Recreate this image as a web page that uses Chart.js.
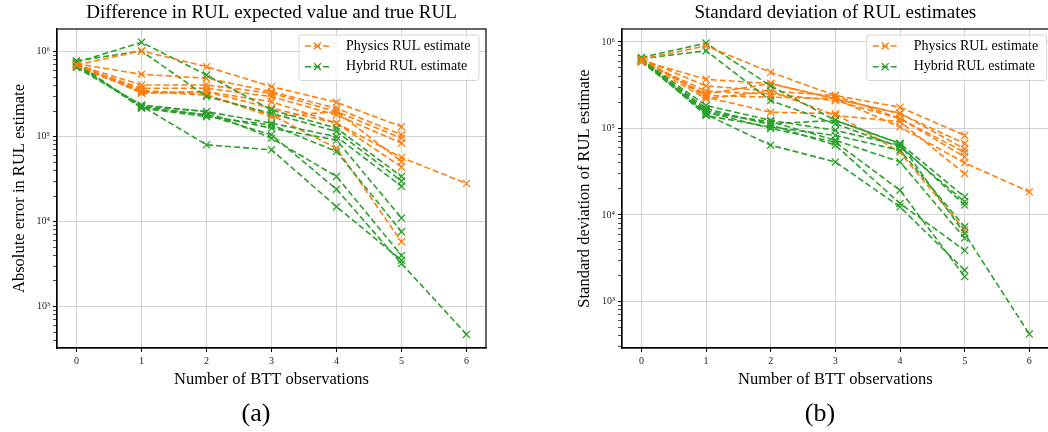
<!DOCTYPE html>
<html>
<head>
<meta charset="utf-8">
<title>RUL estimates vs. BTT observations</title>
<script src="https://cdn.jsdelivr.net/npm/chart.js@4.4.1/dist/chart.umd.min.js"></script>
<style>
  html, body { margin: 0; padding: 0; background: #fff; overflow: hidden; }
  body { width: 1048px; height: 432px; position: relative; }
  canvas { position: absolute; top: 0; }
  #panelA { left: 0; }
  #panelB { left: 520px; }
  .caption {
    position: absolute; top: 398px; width: 80px; margin-left: -40px;
    text-align: center; font: 26px "Liberation Serif", "Times New Roman", serif; color: #000;
  }
</style>
</head>
<body>
<canvas id="panelA" width="520" height="432"></canvas>
<canvas id="panelB" width="535" height="432"></canvas>
<div class="caption" style="left:256px">(a)</div>
<div class="caption" style="left:820px">(b)</div>

<script>
// ---- data -------------------------------------------------------------
const bttObs = [0, 1, 2, 3, 4, 5, 6];
const seriesNames = ['Physics RUL estimate', 'Hybrid RUL estimate'];
const seriesColors = ['#ff7f0e', '#2ca02c'];
const yDecades = [1e3, 1e4, 1e5, 1e6];
const yDecadeLabels = ['10³', '10⁴', '10⁵', '10⁶'];

// (a) absolute error of RUL expected value, one row per test case
const physicsError = [
  [7.0e5, 1.02e6, 6.67e5, 3.88e5, 2.54e5, 1.31e5],
  [7.2e5, 5.42e5, 4.87e5, 3.38e5, 2.16e5, 1.05e5],
  [7.0e5, 4.06e5, 4.06e5, 3.24e5, 1.97e5, 9.6e4],
  [6.8e5, 3.71e5, 3.71e5, 2.96e5, 1.80e5, 8.4e4],
  [7.3e5, 3.24e5, 3.38e5, 2.58e5, 1.44e5, 5.7e4, 2.8e4],
  [6.9e5, 3.50e5, 3.10e5, 1.72e5, 1.97e5, 5.1e4],
  [7.1e5, 3.30e5, 3.38e5, 2.16e5, 1.44e5, 4.4e4],
  [6.6e5, 3.40e5, 3.10e5, 1.80e5, 7.3e4, 5.8e3]
];
const hybridError = [
  [7.5e5, 1.29e6, 5.32e5, 2.06e5, 1.26e5, 3.4e4],
  [7.8e5, 1.02e6, 2.96e5, 1.88e5, 1.15e5, 3.0e4],
  [6.5e5, 2.36e5, 1.97e5, 1.44e5, 1.00e5, 2.6e4],
  [7.0e5, 2.25e5, 1.80e5, 1.26e5, 9.1e4, 1.1e4],
  [7.2e5, 2.16e5, 1.72e5, 1.37e5, 6.7e4, 7.6e3],
  [6.8e5, 2.30e5, 1.97e5, 9.6e4, 3.4e4, 4.0e3],
  [7.4e5, 2.20e5, 1.80e5, 1.05e5, 2.4e4, 3.2e3, 4.7e2],
  [6.9e5, 2.30e5, 8.0e4, 7.0e4, 1.5e4, 3.5e3]
];

// (b) standard deviation of the RUL estimates
const physicsStd = [
  [6.3e5, 9.0e5, 4.45e5, 2.4e5, 1.76e5, 8.3e4],
  [6.1e5, 3.7e5, 3.3e5, 2.2e5, 1.48e5, 6.7e4],
  [6.4e5, 3.1e5, 2.7e5, 2.4e5, 1.30e5, 5.3e4],
  [6.0e5, 2.7e5, 2.5e5, 2.1e5, 1.30e5, 4.7e4],
  [6.2e5, 2.4e5, 2.3e5, 2.2e5, 1.04e5, 4.0e4, 1.85e4],
  [5.9e5, 2.2e5, 2.7e5, 1.41e5, 1.20e5, 3.0e4],
  [6.5e5, 2.3e5, 1.54e5, 1.48e5, 5.3e4, 6.7e3],
  [6.0e5, 2.5e5, 3.3e5, 2.2e5, 1.50e5, 5.8e4]
];
const hybridStd = [
  [6.6e5, 9.7e5, 3.1e5, 1.24e5, 6.7e4, 1.62e4],
  [6.4e5, 7.9e5, 2.1e5, 1.13e5, 6.1e4, 1.42e4],
  [6.2e5, 1.84e5, 1.24e5, 9.5e4, 6.4e4, 1.3e4],
  [6.0e5, 1.61e5, 1.13e5, 1.24e5, 6.7e4, 6.1e3, 4.2e2],
  [6.3e5, 1.41e5, 1.04e5, 8.3e4, 5.6e4, 7.3e3],
  [5.9e5, 1.50e5, 1.20e5, 7.3e4, 4.1e4, 5.4e3],
  [6.1e5, 1.70e5, 1.10e5, 6.4e4, 1.36e4, 3.9e3],
  [6.5e5, 1.45e5, 6.4e4, 4.1e4, 1.24e4, 2.3e3],
  [6.0e5, 1.55e5, 1.00e5, 6.95e4, 1.93e4, 1.94e3]
];

// ---- styling ----------------------------------------------------------
const SERIF = '"Liberation Serif", "Times New Roman", serif';
Chart.defaults.font.family = SERIF;
Chart.defaults.color = '#000';

const isDecade = v => yDecades.some(d => Math.abs(v - d) < d * 1e-6);

function seriesLine(vals, color) {
  return {
    data: vals.map((v, k) => ({ x: bttObs[k], y: v })),
    borderColor: color,
    backgroundColor: color,
    borderWidth: 1.6,
    borderDash: [6, 3],
    pointStyle: 'crossRot',
    pointRadius: 5,
    pointBorderWidth: 1.3,
    pointBorderColor: color,
    tension: 0
  };
}

function buildSets(phys, hyb) {
  const sets = [];
  const n = Math.max(phys.length, hyb.length);
  for (let i = 0; i < n; i++) {
    if (phys[i]) sets.push(seriesLine(phys[i], seriesColors[0]));
    if (hyb[i]) sets.push(seriesLine(hyb[i], seriesColors[1]));
  }
  return sets;
}

// black frame on the top/right sides (left/bottom come from the axis borders)
const frame = {
  id: 'frame',
  afterDatasetsDraw(chart) {
    const { ctx, chartArea: a } = chart;
    ctx.save();
    ctx.strokeStyle = '#000';
    ctx.lineWidth = 1.2;
    ctx.strokeRect(a.left, a.top, a.right - a.left, a.bottom - a.top);
    ctx.restore();
  }
};

// legend box in the upper-right corner of the plot area
const boxLegend = {
  id: 'boxLegend',
  afterDraw(chart, args, opts) {
    const { ctx, chartArea: a } = chart;
    const w = 180, h = 45.5;
    const x0 = a.right - opts.inset - w, y0 = a.top + 6;
    ctx.save();
    ctx.beginPath();
    ctx.roundRect(x0, y0, w, h, 3);
    ctx.fillStyle = 'rgba(255,255,255,0.85)';
    ctx.fill();
    ctx.strokeStyle = '#d4d4d4';
    ctx.lineWidth = 1;
    ctx.stroke();
    seriesNames.forEach((name, i) => {
      const y = y0 + 11 + i * 20.7;
      const c = seriesColors[i];
      ctx.strokeStyle = c;
      ctx.lineWidth = 1.6;
      ctx.setLineDash([6, 3]);
      ctx.beginPath();
      ctx.moveTo(x0 + 6, y);
      ctx.lineTo(x0 + 31, y);
      ctx.stroke();
      ctx.setLineDash([]);
      ctx.lineWidth = 1.3;
      Chart.helpers.drawPoint(ctx, { pointStyle: 'crossRot', radius: 5, borderWidth: 1.3, rotation: 0 }, x0 + 18.5, y);
      ctx.fillStyle = '#000';
      ctx.font = '14px ' + SERIF;
      ctx.textBaseline = 'middle';
      ctx.textAlign = 'left';
      ctx.fillText(name, x0 + 47, y);
    });
    ctx.restore();
  }
};

function makePanel(id, cfg) {
  return new Chart(document.getElementById(id), {
    type: 'line',
    data: { datasets: buildSets(cfg.phys, cfg.hyb) },
    plugins: [frame, boxLegend],
    options: {
      responsive: false,
      animation: false,
      devicePixelRatio: 1,
      events: [],
      layout: { padding: { top: 0, left: 0, bottom: 0, right: cfg.padRight } },
      plugins: {
        legend: { display: false },
        tooltip: { enabled: false },
        boxLegend: { inset: cfg.legendInset },
        title: {
          display: true,
          text: cfg.title,
          fullSize: false,
          color: '#000',
          font: { size: 19, weight: 'normal', family: SERIF },
          padding: { top: 2, bottom: 4.2 }
        }
      },
      scales: {
        x: {
          type: 'linear',
          min: -0.3,
          max: 6.3,
          afterBuildTicks: s => { s.ticks = bttObs.map(v => ({ value: v })); },
          afterFit: s => { s.height = 84; },
          ticks: {
            autoSkip: false, maxRotation: 0, padding: 3, color: '#222',
            font: { size: 10 },
            callback: v => String(v)
          },
          grid: { color: '#d2d2d2', lineWidth: 1, tickColor: '#000', tickLength: 4 },
          border: { color: '#000', width: 1.2 },
          title: {
            display: true, text: 'Number of BTT observations', color: '#000',
            font: { size: 16.5 }, padding: { top: 0, bottom: 42.6 }
          }
        },
        y: {
          type: 'logarithmic',
          min: cfg.yMin,
          max: cfg.yMax,
          afterBuildTicks: s => {
            const t = [];
            for (let e = Math.floor(Math.log10(s.min)); e <= Math.ceil(Math.log10(s.max)); e++) {
              for (let m = 1; m < 10; m++) {
                const v = m * Math.pow(10, e);
                if (v >= s.min && v <= s.max) t.push({ value: v });
              }
            }
            s.ticks = t;
          },
          afterFit: s => { s.width = cfg.axisWidth; },
          ticks: {
            autoSkip: false, padding: 3, color: '#222',
            font: { size: 10 },
            callback: v => {
              const i = yDecades.findIndex(d => Math.abs(v - d) < d * 1e-6);
              return i < 0 ? '' : yDecadeLabels[i];
            }
          },
          grid: {
            color: c => isDecade(c.tick.value) ? '#d2d2d2' : 'rgba(0,0,0,0)',
            lineWidth: 1,
            tickColor: '#000',
            tickWidth: c => isDecade(c.tick.value) ? 1 : 0.7,
            tickLength: 4
          },
          border: { color: '#000', width: 1.2 },
          title: {
            display: true, text: cfg.yTitle, color: '#000',
            font: { size: 16.5 }, padding: { top: cfg.yTitlePad, bottom: 0 }
          }
        }
      }
    }
  });
}

makePanel('panelA', {
  phys: physicsError, hyb: hybridError,
  title: 'Difference in RUL expected value and true RUL',
  yTitle: 'Absolute error in RUL estimate',
  yMin: 325, yMax: 1.85e6,
  axisWidth: 57, yTitlePad: 9.5, padRight: 34, legendInset: 7
});

makePanel('panelB', {
  phys: physicsStd, hyb: hybridStd,
  title: 'Standard deviation of RUL estimates',
  yTitle: 'Standard deviation of RUL estimate',
  yMin: 290, yMax: 1.41e6,
  axisWidth: 102, yTitlePad: 55.2, padRight: 2, legendInset: 2
});
</script>
</body>
</html>
